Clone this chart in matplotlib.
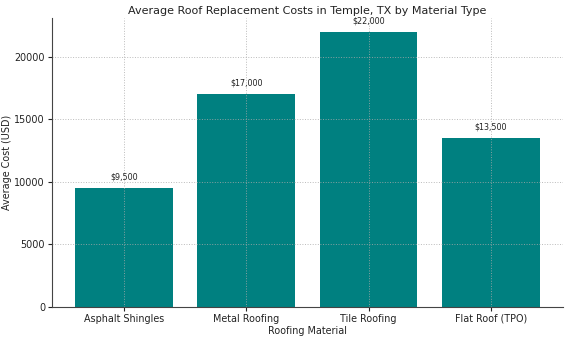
import matplotlib.pyplot as plt

materials = ['Asphalt Shingles', 'Metal Roofing', 'Tile Roofing', 'Flat Roof (TPO)']
costs = [9500, 17000, 22000, 13500]

fig, ax = plt.subplots(figsize=(5.68, 3.38), dpi=100)
fig.subplots_adjust(left=0.0915, right=0.991, bottom=0.092, top=0.947)

bars = ax.bar(materials, costs, color='teal', width=0.8)
for b, c in zip(bars, costs):
    ax.text(b.get_x() + b.get_width() / 2, c + 500, f'${c:,}',
            ha='center', va='bottom', fontsize=5.8, color='#222222')

ax.set_title('Average Roof Replacement Costs in Temple, TX by Material Type',
             fontsize=8, color='#222222', pad=3)
ax.set_xlabel('Roofing Material', fontsize=6.9, color='#222222', labelpad=1.5)
ax.set_ylabel('Average Cost (USD)', fontsize=6.9, color='#222222', labelpad=2)
ax.tick_params(labelsize=6.9, colors='#222222', length=3, pad=2)
ax.grid(True, linestyle=':', color='#aaaaaa', linewidth=0.7, alpha=0.8)
ax.spines['top'].set_visible(False)
ax.spines['right'].set_visible(False)
ax.spines['left'].set_color('#444444')
ax.spines['bottom'].set_color('#444444')

fig.savefig('out.png')
